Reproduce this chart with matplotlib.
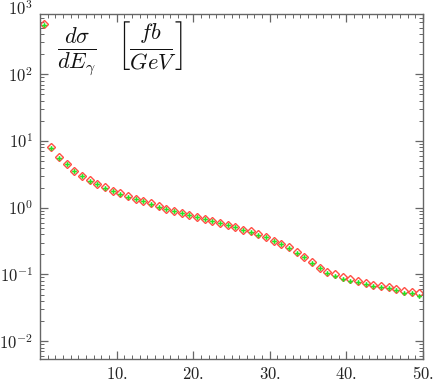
import numpy as np
import matplotlib
matplotlib.use("Agg")
import matplotlib.pyplot as plt
from matplotlib.ticker import FixedLocator, LogLocator, NullFormatter, MultipleLocator

plt.rcParams['mathtext.fontset'] = 'cm'

# photon energy bins (centres) and dsigma/dE values
e_gamma = np.arange(50) + 0.5
red_vals = [560, 8.0, 5.7, 4.5, 3.6, 3.0, 2.57, 2.27, 2.02, 1.80,
            1.64, 1.48, 1.36, 1.26, 1.16, 1.05, 0.97, 0.90, 0.84, 0.78,
            0.73, 0.68, 0.63, 0.59, 0.55, 0.51, 0.47, 0.44, 0.40, 0.37,
            0.32, 0.29, 0.256, 0.217, 0.184, 0.151, 0.125, 0.109, 0.100, 0.091,
            0.084, 0.079, 0.075, 0.069, 0.066, 0.064, 0.060, 0.057, 0.054, 0.052]
green_vals = [555, 7.9, 5.6, 4.45, 3.6, 2.98, 2.55, 2.25, 2.0, 1.79,
              1.63, 1.47, 1.35, 1.25, 1.15, 1.04, 0.96, 0.89, 0.83, 0.77,
              0.72, 0.675, 0.625, 0.585, 0.545, 0.505, 0.465, 0.435, 0.395, 0.365,
              0.315, 0.285, 0.252, 0.213, 0.180, 0.149, 0.123, 0.106, 0.096, 0.085,
              0.081, 0.076, 0.071, 0.066, 0.064, 0.062, 0.058, 0.052, 0.053, 0.048]
x_ticks = [10, 20, 30, 40, 50]
x_labels = ['10.', '20.', '30.', '40.', '50.']
y_ticks = [1e-2, 1e-1, 1e0, 1e1, 1e2]
y_labels = [r'$10^{-2}$', r'$10^{-1}$', r'$10^{0}$', r'$10^{1}$', r'$10^{2}$']

fig = plt.figure(figsize=(4.36, 3.82), dpi=100)
ax = fig.add_axes([40 / 436, 1 - 359 / 382, 383 / 436, 345 / 382])

ax.plot(e_gamma, red_vals, linestyle='none', marker='D', markersize=4.3,
        markerfacecolor='none', markeredgecolor='#ff4f45', markeredgewidth=1.0)
ax.plot(e_gamma, green_vals, linestyle='none', marker='P', markersize=3.4,
        color='#22e622', markeredgewidth=0)

ax.set_yscale('log')
ax.set_xlim(0, 50)
ax.set_ylim(0.0054, 800)

ax.xaxis.set_major_locator(FixedLocator(x_ticks))
ax.set_xticklabels([r'$' + s + '$' for s in x_labels])
ax.xaxis.set_minor_locator(MultipleLocator(1))
ax.yaxis.set_major_locator(FixedLocator(y_ticks))
ax.set_yticklabels(y_labels)
ax.yaxis.set_minor_locator(LogLocator(base=10, subs=np.arange(2, 10), numticks=20))
ax.yaxis.set_minor_formatter(NullFormatter())

gray = '#666666'
for s in ax.spines.values():
    s.set_color(gray)
    s.set_linewidth(1.0)
ax.tick_params(which='both', direction='in', top=True, right=True, color=gray,
               labelcolor='#222222', labelsize=12)
ax.tick_params(which='major', length=6, width=0.9)
ax.tick_params(which='minor', length=3, width=0.7)
ax.tick_params(axis='x', pad=4)
ax.tick_params(axis='y', pad=5)

# the 10^3 label sits just above the plotted range
ax.text(-0.019, 930, r'$10^{3}$', transform=ax.get_yaxis_transform(),
        ha='right', va='center', fontsize=12, color='#222222', clip_on=False)

ax.text(0.045, 0.985, r'$\frac{d\sigma}{dE_\gamma}\ \ \left[\frac{fb}{GeV}\right]$',
        transform=ax.transAxes, fontsize=23, va='top', ha='left', color='#111111')

fig.savefig('out.png', dpi=100)
